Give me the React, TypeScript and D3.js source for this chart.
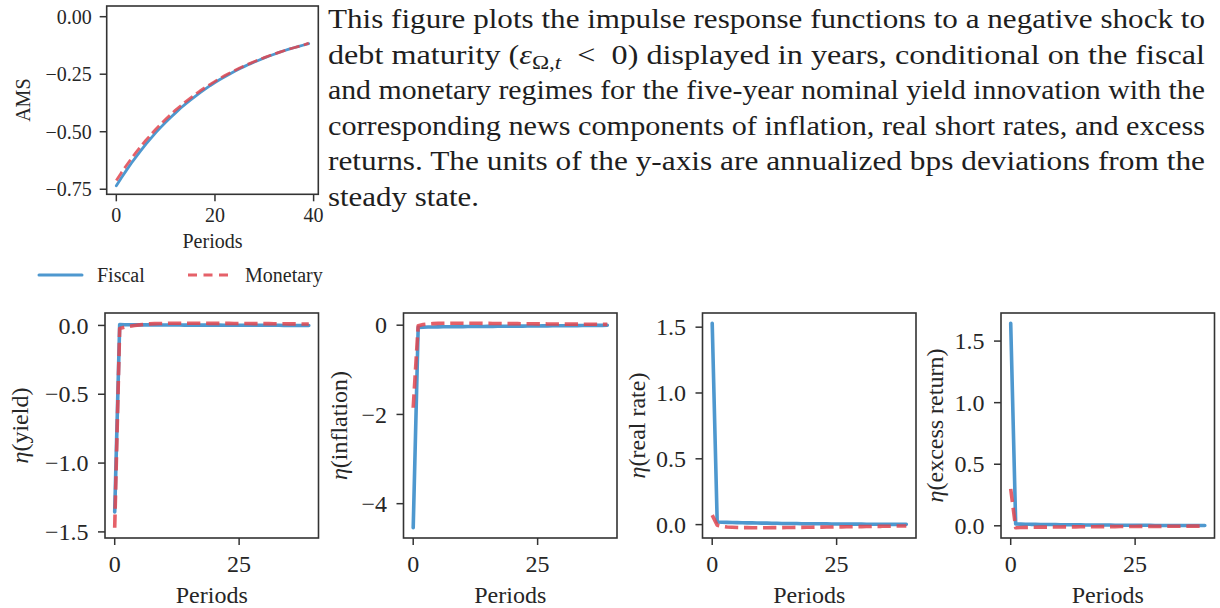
import * as d3 from 'd3';

const FONT = '"Liberation Serif", "Times New Roman", serif';
const INK = '#262626';
const BLUE = '#4e98cf';
const RED = '#e0454f';

const periods = d3.range(40);

// top chart: average maturity of debt (AMS)
const amsFiscal = [
  -0.735, -0.701, -0.669, -0.638, -0.609, -0.581, -0.554, -0.529, -0.504, -0.481,
  -0.459, -0.438, -0.418, -0.398, -0.38, -0.363, -0.346, -0.33, -0.315, -0.3,
  -0.286, -0.273, -0.261, -0.249, -0.237, -0.226, -0.216, -0.206, -0.197, -0.188,
  -0.179, -0.171, -0.163, -0.155, -0.148, -0.141, -0.135, -0.129, -0.123, -0.117,
];
const amsMonetary = [
  -0.712, -0.679, -0.648, -0.618, -0.59, -0.563, -0.537, -0.513, -0.489, -0.467,
  -0.446, -0.426, -0.406, -0.388, -0.37, -0.354, -0.338, -0.322, -0.308, -0.294,
  -0.281, -0.268, -0.256, -0.245, -0.234, -0.223, -0.213, -0.204, -0.195, -0.186,
  -0.178, -0.17, -0.162, -0.155, -0.148, -0.141, -0.135, -0.129, -0.123, -0.115,
];

// bottom panels: news components
const yieldFiscal = [
  -1.355, 0.006, 0.005, 0.005, 0.004, 0.004, 0.004, 0.004, 0.003, 0.003,
  0.003, 0.003, 0.003, 0.003, 0.002, 0.002, 0.002, 0.002, 0.002, 0.002,
  0.002, 0.002, 0.001, 0.001, 0.001, 0.001, 0.001, 0.001, 0.001, 0.001,
  0.001, 0.001, 0.001, 0.001, 0.0, 0.0, 0.0, 0.0, 0.0, 0.0,
];
const yieldMonetary = [
  -1.47, -0.022, -0.013, -0.006, 0.0, 0.004, 0.008, 0.011, 0.013, 0.014,
  0.015, 0.016, 0.016, 0.016, 0.016, 0.016, 0.016, 0.016, 0.016, 0.015,
  0.015, 0.015, 0.015, 0.015, 0.014, 0.014, 0.014, 0.014, 0.013, 0.013,
  0.013, 0.013, 0.012, 0.012, 0.012, 0.011, 0.011, 0.011, 0.01, 0.01,
];
const inflationFiscal = [
  -4.54, -0.05, -0.045, -0.042, -0.04, -0.038, -0.036, -0.035, -0.034, -0.033,
  -0.032, -0.031, -0.03, -0.029, -0.028, -0.027, -0.026, -0.025, -0.024, -0.023,
  -0.022, -0.021, -0.02, -0.019, -0.018, -0.017, -0.016, -0.015, -0.014, -0.013,
  -0.012, -0.011, -0.01, -0.009, -0.008, -0.007, -0.006, -0.005, -0.004, -0.003,
];
const inflationMonetary = [
  -1.85, -0.01, 0.015, 0.028, 0.035, 0.04, 0.042, 0.043, 0.044, 0.044,
  0.044, 0.043, 0.043, 0.042, 0.041, 0.04, 0.039, 0.038, 0.037, 0.036,
  0.035, 0.034, 0.033, 0.032, 0.031, 0.03, 0.029, 0.028, 0.027, 0.026,
  0.025, 0.024, 0.024, 0.023, 0.022, 0.021, 0.021, 0.02, 0.019, 0.019,
];
const realFiscal = [
  1.53, 0.02, 0.018, 0.017, 0.016, 0.015, 0.014, 0.013, 0.013, 0.012,
  0.011, 0.011, 0.01, 0.01, 0.009, 0.009, 0.008, 0.008, 0.007, 0.007,
  0.007, 0.006, 0.006, 0.006, 0.005, 0.005, 0.005, 0.004, 0.004, 0.004,
  0.004, 0.003, 0.003, 0.003, 0.003, 0.002, 0.002, 0.002, 0.002, 0.002,
];
const realMonetary = [
  0.072, -0.004, -0.013, -0.018, -0.02, -0.022, -0.023, -0.023, -0.024, -0.024,
  -0.024, -0.024, -0.023, -0.023, -0.023, -0.022, -0.022, -0.021, -0.021, -0.02,
  -0.02, -0.019, -0.019, -0.018, -0.018, -0.017, -0.017, -0.016, -0.016, -0.015,
  -0.015, -0.014, -0.014, -0.013, -0.013, -0.012, -0.012, -0.011, -0.011, -0.01,
];
const excessFiscal = [
  1.645, 0.015, 0.014, 0.013, 0.012, 0.012, 0.011, 0.011, 0.01, 0.01,
  0.009, 0.009, 0.008, 0.008, 0.008, 0.007, 0.007, 0.007, 0.006, 0.006,
  0.006, 0.005, 0.005, 0.005, 0.005, 0.004, 0.004, 0.004, 0.004, 0.003,
  0.003, 0.003, 0.003, 0.003, 0.002, 0.002, 0.002, 0.002, 0.002, 0.002,
];
const excessMonetary = [
  0.3, -0.016, -0.014, -0.013, -0.012, -0.012, -0.011, -0.011, -0.01, -0.01,
  -0.01, -0.009, -0.009, -0.009, -0.008, -0.008, -0.008, -0.008, -0.007, -0.007,
  -0.007, -0.007, -0.006, -0.006, -0.006, -0.006, -0.005, -0.005, -0.005, -0.005,
  -0.005, -0.004, -0.004, -0.004, -0.004, -0.004, -0.003, -0.003, -0.003, -0.003,
];

const amsYTicks = [0, -0.25, -0.5, -0.75];
const amsXTicks = [0, 20, 40];
const bottomXTicks = [0, 25];

const captionLines = [
  'This figure plots the impulse response functions to a negative shock to',
  'debt maturity (',
  'and monetary regimes for the five-year nominal yield innovation with the',
  'corresponding news components of inflation, real short rates, and excess',
  'returns.  The units of the y-axis are annualized bps deviations from the',
  'steady state.',
];
const captionLine2Tail = '\u2002<\u20020) displayed in years, conditional on the fiscal';

const minus = (s: string) => s.replace('-', '\u2212');

type PanelProps = {
  left: number;
  top: number;
  width: number;
  height: number;
  fiscal: number[];
  monetary: number[];
  yTicks: number[];
  yFmt: string;
  xTicks: number[];
  yDomain?: [number, number];
  ylabel: React.ReactNode;
  ylabelX: number;
  fontSize: number;
  lw: number;
  tickLen: number;
  yTickPad: number;
  xTickY: number;
  xLabelY: number;
};

const Panel = (p: PanelProps) => {
  const [xMin, xMax] = d3.extent(periods) as [number, number];
  const xm = (xMax - xMin) * 0.05;
  const x = d3.scaleLinear().domain([xMin - xm, xMax + xm]).range([0, p.width]);

  // matplotlib-style autoscale: data extent + 5% margin
  let dom = p.yDomain;
  if (!dom) {
    const [lo, hi] = d3.extent([...p.fiscal, ...p.monetary]) as [number, number];
    const m = (hi - lo) * 0.05;
    dom = [lo - m, hi + m];
  }
  const y = d3.scaleLinear().domain(dom).range([p.height, 0]);
  const fmt = d3.format(p.yFmt);

  const line = d3
    .line<number>()
    .x((_, i) => x(periods[i]))
    .y(d => y(d));

  const dash = `${3.7 * p.lw},${1.6 * p.lw}`;

  return (
    <g transform={`translate(${p.left},${p.top})`} fontFamily={FONT} fill={INK}>
      <path d={line(p.fiscal) || ''} fill="none" stroke={BLUE} strokeWidth={p.lw} strokeLinejoin="round" strokeLinecap="round" />
      <path
        d={line(p.monetary) || ''}
        fill="none"
        stroke={RED}
        strokeOpacity={0.85}
        strokeWidth={p.lw}
        strokeDasharray={dash}
        strokeLinejoin="round"
      />
      <rect x={0} y={0} width={p.width} height={p.height} fill="none" stroke="#333" strokeWidth={1.6} />

      {p.yTicks.map(t => (
        <g key={`y${t}`} transform={`translate(0,${y(t)})`}>
          <line x1={-p.tickLen} x2={0} stroke="#333" strokeWidth={1.5} />
          <text x={-p.yTickPad} dy="0.34em" textAnchor="end" fontSize={p.fontSize}>
            {minus(fmt(t))}
          </text>
        </g>
      ))}
      {p.xTicks.map(t => (
        <g key={`x${t}`} transform={`translate(${x(t)},${p.height})`}>
          <line y1={0} y2={p.tickLen} stroke="#333" strokeWidth={1.5} />
          <text y={p.xTickY} textAnchor="middle" fontSize={p.fontSize}>
            {t}
          </text>
        </g>
      ))}

      <text x={p.width / 2} y={p.height + p.xLabelY} textAnchor="middle" fontSize={p.fontSize}>
        Periods
      </text>
      <text
        transform={`translate(${p.ylabelX},${p.height / 2}) rotate(-90)`}
        textAnchor="middle"
        fontSize={p.fontSize}
      >
        {p.ylabel}
      </text>
    </g>
  );
};

const eta = (name: string) => (
  <>
    <tspan fontStyle="italic">η</tspan>({name})
  </>
);

const bottomPanels = [
  { left: 105, fiscal: yieldFiscal, monetary: yieldMonetary, yTicks: [0, -0.5, -1, -1.5], yFmt: '.1f', name: 'yield', ylabelX: -77 },
  { left: 403.5, fiscal: inflationFiscal, monetary: inflationMonetary, yTicks: [0, -2, -4], yFmt: '.0f', name: 'inflation', ylabelX: -56.5 },
  { left: 702.5, fiscal: realFiscal, monetary: realMonetary, yTicks: [0, 0.5, 1, 1.5], yFmt: '.1f', name: 'real rate', ylabelX: -57.5 },
  { left: 1001, fiscal: excessFiscal, monetary: excessMonetary, yTicks: [0, 0.5, 1, 1.5], yFmt: '.1f', name: 'excess return', ylabelX: -58 },
];

const Caption = () => {
  const x0 = 328;
  const full = 877;
  const base = 28;
  const step = 35.5;
  return (
    <g fontFamily={FONT} fill="#1e1e1e" fontSize={26.5}>
      {captionLines.map((l, i) => {
        const yy = base + i * step;
        if (i === 1) {
          return (
            <text key={i} x={x0} y={yy} textLength={full} lengthAdjust="spacingAndGlyphs">
              {l}
              <tspan fontStyle="italic">ε</tspan>
              <tspan fontSize={19} dy={5}>Ω,</tspan>
              <tspan fontSize={19} fontStyle="italic">t</tspan>
              <tspan dy={-5}>{captionLine2Tail}</tspan>
            </text>
          );
        }
        const last = i === captionLines.length - 1;
        return (
          <text key={i} x={x0} y={yy} textLength={last ? 151 : full} lengthAdjust="spacingAndGlyphs">
            {l}
          </text>
        );
      })}
    </g>
  );
};

const Legend = () => {
  const y = 275;
  return (
    <g fontFamily={FONT} fill={INK} fontSize={20}>
      <line x1={39} x2={82} y1={y} y2={y} stroke={BLUE} strokeWidth={3} strokeLinecap="round" />
      <text x={97} y={y + 6.5}>Fiscal</text>
      <line x1={188} x2={228} y1={y} y2={y} stroke={RED} strokeOpacity={0.85} strokeWidth={3} strokeDasharray="9,6.5" />
      <text x={245} y={y + 6.5}>Monetary</text>
    </g>
  );
};

export default function App() {
  return (
    <svg width={1220} height={608} style={{ position: 'absolute', left: 0, top: 0, background: '#fff' }}>
      <rect width={1220} height={608} fill="#fff" />
      <Panel
        left={106.7}
        top={6}
        width={211.6}
        height={188.3}
        fiscal={amsFiscal}
        monetary={amsMonetary}
        yTicks={amsYTicks}
        yFmt=".2f"
        xTicks={amsXTicks}
        yDomain={[-0.772, 0.0465]}
        ylabel="AMS"
        ylabelX={-76.7}
        fontSize={20}
        lw={2.8}
        tickLen={7}
        yTickPad={15}
        xTickY={28}
        xLabelY={54}
      />
      <Legend />
      <Caption />
      {bottomPanels.map(bp => (
        <Panel
          key={bp.name}
          left={bp.left}
          top={313}
          width={213.5}
          height={225}
          fiscal={bp.fiscal}
          monetary={bp.monetary}
          yTicks={bp.yTicks}
          yFmt={bp.yFmt}
          xTicks={bottomXTicks}
          ylabel={eta(bp.name)}
          ylabelX={bp.ylabelX}
          fontSize={24}
          lw={3.6}
          tickLen={7}
          yTickPad={16.5}
          xTickY={34}
          xLabelY={65}
        />
      ))}
    </svg>
  );
}
